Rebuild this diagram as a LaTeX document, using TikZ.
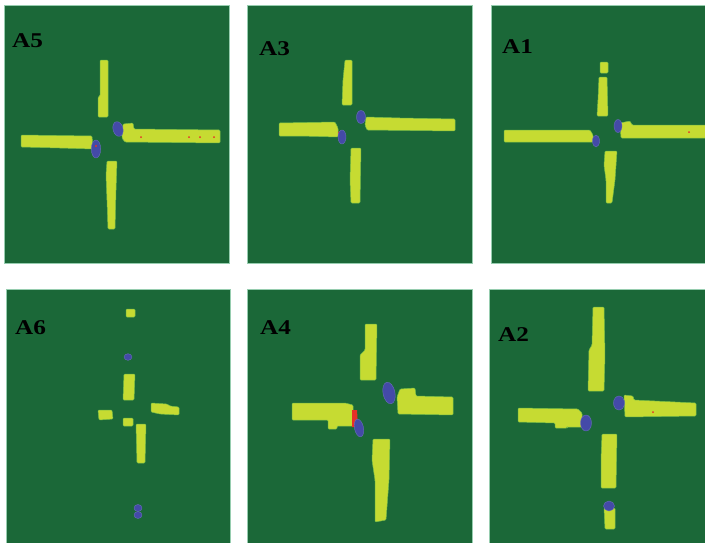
\documentclass[tikz,border=0pt]{standalone}
\usepackage{fontspec}
\setmainfont{Liberation Serif}
\newfontfamily\lblfont[FakeStretch=1.2]{Liberation Serif}
\definecolor{field}{RGB}{27,104,56}
\definecolor{rim}{RGB}{150,205,175}
\definecolor{lane}{RGB}{198,219,50}
\definecolor{lanerim}{RGB}{120,190,70}
\definecolor{car}{RGB}{68,74,168}
\definecolor{hot}{RGB}{232,48,40}

\begin{document}
\begin{tikzpicture}[x=1pt,y=-1pt,
	panel/.style={fill=field,draw=rim,line width=0.8pt},
	bar/.style={fill=lane,draw=lanerim,line width=0.5pt,rounded corners=1pt},
	blob/.style={fill=car,draw=car!80!white,line width=0.4pt},
	spot/.style={fill=hot,draw=none},
	lbl/.style={anchor=base west,inner sep=0pt,font=\lblfont\fontsize{21}{21}\selectfont\bfseries}]
		\useasboundingbox (0,0) rectangle (705,542);
		\fill[white] (0,0) rectangle (705,542);

		\draw[panel] (4,5) rectangle (229,263);
		\draw[panel] (247,5) rectangle (472,263);
		\draw[panel] (491,5) rectangle (706,263);
		\draw[panel] (6,289) rectangle (230,543);
		\draw[panel] (247,289) rectangle (472,543);
		\draw[panel] (489,289) rectangle (706,543);

		\draw (12,47) node [lbl] (a5){A5};
		\draw (259,55) node [lbl] (a3){A3};
		\draw (502,53) node [lbl] (a1){A1};
		\draw (15,334) node [lbl] (a6){A6};
		\draw (260,334) node [lbl] (a4){A4};
		\draw (498,341) node [lbl] (a2){A2};

		\draw[bar] (100,60) -- (108,60) -- (108,117) -- (98,117) -- (98,97) -- (100,96) -- cycle;
		\draw[bar] (21,135) -- (92,136) -- (93,149) -- (60,148) -- (21,147) -- cycle;
		\draw[bar] (123,124) -- (133,123) -- (134,129) -- (220,130) -- (220,143) -- (125,142) -- (122,138) -- cycle;
		\draw[bar] (107,161) -- (117,161) -- (116,190) -- (115,229) -- (108,229) -- (107,200) -- (106,175) -- cycle;
		\draw[blob,rotate around={15:(118,129)}] (118,129) ellipse [x radius=5,y radius=7.5];
		\draw[blob] (96,149) ellipse [x radius=4.7,y radius=9];
		\fill[spot] (96,146) circle (1.2);
		\foreach \px in {141,189,200,214}
			\fill[spot] (\px,137) circle (1);

		\draw[bar] (345,60) -- (352,60) -- (352,105) -- (342,105) -- (343,80) -- cycle;
		\draw[bar] (279,123) -- (335,122) -- (338,128) -- (338,137) -- (300,136) -- (279,136) -- cycle;
		\draw[bar] (366,117) -- (400,118) -- (455,119) -- (455,131) -- (367,130) -- (365,125) -- cycle;
		\draw[bar] (351,148) -- (361,148) -- (360,203) -- (351,203) -- (350,180) -- cycle;
		\fill[spot] (338,132) -- (341,131) -- (342,140) -- (338,138) -- cycle;
		\draw[blob] (361,117) ellipse [x radius=4.5,y radius=6.5];
		\draw[blob] (342,137) ellipse [x radius=4,y radius=7];

		\draw[bar] (600,62) rectangle (608,73);
		\draw[bar] (599,77) -- (607,77) -- (608,116) -- (597,116) -- (598,100) -- cycle;
		\draw[bar] (504,130) -- (590,130) -- (593,135) -- (593,142) -- (540,142) -- (504,142) -- cycle;
		\draw[bar] (620,123) -- (630,121) -- (632,125) -- (706,125) -- (706,138) -- (621,138) -- cycle;
		\draw[bar] (605,151) -- (617,151) -- (615,180) -- (612,203) -- (606,203) -- (606,180) -- (604,165) -- cycle;
		\draw[blob] (618,126) ellipse [x radius=4,y radius=6.5];
		\draw[blob] (596,141) ellipse [x radius=3.5,y radius=6];
		\fill[spot] (689,132) circle (1);

		\draw[bar] (126,309) rectangle (135,317);
		\draw[blob] (128,357) ellipse [x radius=4,y radius=3.3];
		\draw[bar] (124,374) -- (135,374) -- (134,400) -- (123,400) -- cycle;
		\draw[bar] (98,410) -- (112,410) -- (113,419) -- (99,420) -- cycle;
		\draw[bar] (151,403) -- (167,404) -- (170,406) -- (179,407) -- (179,415) -- (160,414) -- (151,412) -- cycle;
		\draw[bar] (123,418) rectangle (133,426);
		\draw[bar] (136,424) -- (146,424) -- (145,463) -- (137,463) -- cycle;
		\draw[blob] (138,508) ellipse [x radius=4,y radius=3.5];
		\draw[blob] (138,515) ellipse [x radius=4,y radius=3.5];

		\draw[bar] (365,324) -- (377,324) -- (376,380) -- (360,380) -- (360,355) -- (365,350) -- cycle;
		\draw[bar] (397,397) -- (400,389) -- (415,388) -- (416,396) -- (453,397) -- (453,415) -- (398,414) -- cycle;
		\draw[bar] (292,403) -- (345,403) -- (353,405) -- (353,426) -- (337,426) -- (337,429) -- (328,429) -- (328,420) -- (292,420) -- cycle;
		\fill[spot] (352,410) -- (357,410) -- (358,427) -- (352,427) -- cycle;
		\draw[blob,rotate around={12:(389,393)}] (389,393) ellipse [x radius=6,y radius=11];
		\draw[blob,rotate around={12:(359,428)}] (359,428) ellipse [x radius=4.5,y radius=9];
		\draw[bar] (373,439) -- (390,439) -- (389,480) -- (386,520) -- (375,522) -- (375,480) -- (372,460) -- cycle;

		\draw[bar] (593,307) -- (604,307) -- (605,355) -- (604,391) -- (588,391) -- (589,350) -- (592,345) -- cycle;
		\draw[bar] (624,395) -- (633,396) -- (634,400) -- (696,403) -- (696,416) -- (625,417) -- cycle;
		\draw[bar] (518,408) -- (578,409) -- (582,413) -- (582,427) -- (567,427) -- (567,428) -- (555,428) -- (555,423) -- (518,422) -- cycle;
		\draw[bar] (602,434) -- (617,434) -- (616,488) -- (601,488) -- (601,460) -- cycle;
		\draw[bar] (604,508) -- (615,508) -- (615,529) -- (605,529) -- cycle;
		\draw[blob] (619,403) ellipse [x radius=5.5,y radius=7];
		\draw[blob] (586,423) ellipse [x radius=5.5,y radius=8];
		\draw[blob] (609,506) ellipse [x radius=5.5,y radius=5];
		\fill[spot] (653,412) circle (1);
	\end{tikzpicture}
\end{document}
